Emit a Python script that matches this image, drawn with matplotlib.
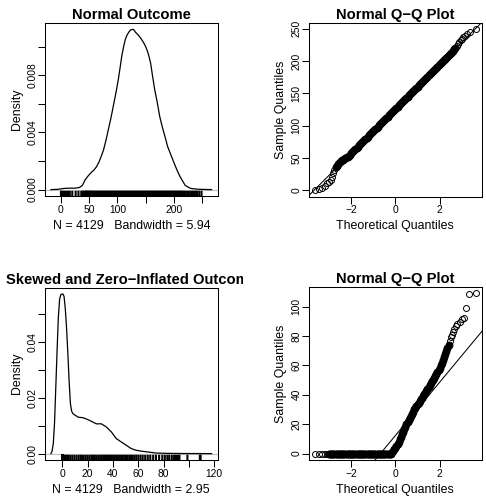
"""2x2 panel: density + normal Q-Q for a normal and a zero-inflated outcome (R base style)."""

import matplotlib

matplotlib.use("Agg")
import matplotlib.pyplot as plt  # noqa: E402
import numpy as np  # noqa: E402
from matplotlib.transforms import Bbox, TransformedBbox  # noqa: E402

plt.rcParams["font.family"] = ["Liberation Sans", "DejaVu Sans"]

# --- normal outcome: density curve ---
dens_norm_x = [-17.8, -5, 5, 15, 25, 33, 38, 43, 49, 55, 58, 63, 67, 72, 75.6,
               80, 84.5, 89, 93.5, 98, 102, 105, 108, 111, 114, 117, 120, 123, 126, 129,
               132, 136, 141, 146, 150, 153, 156, 159, 162, 166, 171, 175, 180, 185, 189,
               194, 198, 202, 206.5, 211, 215.5, 220, 224, 230, 236, 245, 255, 266.8]
dens_norm_y = [0.0, 0.00002, 0.00008, 0.0001, 0.0001, 0.00015, 0.0003, 0.0007, 0.001, 0.00125,
               0.00135, 0.0016, 0.0019, 0.0024, 0.0028, 0.0035, 0.0043, 0.0051, 0.006, 0.0069,
               0.0078, 0.0086, 0.0094, 0.0100, 0.0105, 0.0108, 0.0110, 0.01115, 0.0112, 0.01118,
               0.0110, 0.01085, 0.0106, 0.0103, 0.0100, 0.0097, 0.0093, 0.0088, 0.0080, 0.0070,
               0.0060, 0.0051, 0.0043, 0.0036, 0.0030, 0.0025, 0.0021, 0.0017, 0.00128, 0.0009,
               0.0006, 0.0003, 0.0002, 0.00008, 0.00005, 0.00002, 0.00001, 0.0]

# --- normal outcome: Q-Q points (theoretical, sample) ---
tq_norm = [-3.62, -3.45, -3.30, -3.18, -3.07, -2.98, -2.92, -2.86, -2.82, -2.76, -2.70,
           -2.65, -2.60, -2.55, -2.50, -2.45, -2.40, -2.35, -2.30, -2.25, -2.20, -2.15, -2.10,
           -2.05, -2.00, -1.95,
           -1.90, -1.85, -1.80, -1.75, -1.70, -1.65, -1.60, -1.55, -1.50, -1.45, -1.40, -1.35,
           -1.30, -1.25, -1.20, -1.15, -1.10, -1.05, -1.00,
           -0.95, -0.90, -0.85, -0.80, -0.75, -0.70, -0.65, -0.60, -0.55, -0.50, -0.45, -0.40,
           -0.35, -0.30, -0.25, -0.20, -0.15, -0.10, -0.05, 0.00,
           0.05, 0.10, 0.15, 0.20, 0.25, 0.30, 0.35, 0.40, 0.45, 0.50, 0.55, 0.60, 0.65, 0.70,
           0.75, 0.80, 0.85, 0.90, 0.95, 1.00,
           1.05, 1.10, 1.15, 1.20, 1.25, 1.30, 1.35, 1.40, 1.45, 1.50, 1.55, 1.60, 1.65, 1.70,
           1.75, 1.80, 1.85, 1.90, 1.95, 2.00,
           2.05, 2.10, 2.15, 2.20, 2.25, 2.30, 2.35, 2.40, 2.45, 2.50, 2.55, 2.60,
           2.65, 2.70, 2.76, 2.82, 2.88, 2.94, 3.00, 3.07, 3.14, 3.22, 3.37, 3.62]
sq_norm = [0.0, 2.0, 3.6, 7.0, 10.4, 13.0, 15.6, 20.0, 26.0, 31.0, 36.0,
           38.0, 40.0, 42.0, 43.5, 45.0, 46.0, 47.0, 48.5, 50.0, 51.0, 52.0, 53.5,
           55.0, 57.0, 59.0,
           60.6, 62.4, 64.1, 65.8, 67.5, 69.2, 71.0, 72.7, 74.4, 76.1, 77.8, 79.6,
           81.3, 83.0, 84.7, 86.4, 88.2, 89.9, 91.6,
           93.3, 95.0, 96.8, 98.5, 100.2, 101.9, 103.6, 105.4, 107.1, 108.8, 110.5, 112.2,
           114.0, 115.7, 117.4, 119.1, 120.8, 122.6, 124.3, 126.0,
           127.7, 129.4, 131.2, 132.9, 134.6, 136.3, 138.0, 139.8, 141.5, 143.2, 144.9, 146.6,
           148.4, 150.1, 151.8, 153.5, 155.2, 157.0, 158.7, 160.4,
           162.1, 163.8, 165.6, 167.3, 169.0, 170.7, 172.4, 174.2, 175.9, 177.6, 179.3, 181.0,
           182.8, 184.5, 186.2, 187.9, 189.6, 191.4, 193.1, 194.8,
           196.5, 198.2, 200.0, 201.7, 203.4, 205.1, 206.8, 208.6, 210.3, 212.0, 214.0, 216.0,
           218.0, 220.5, 223.5, 226.5, 229.5, 232.0, 234.5, 237.5, 239.5, 241.5, 245.0, 249.0]
q_norm = (102.6, 149.0)  # quartiles used by qqline

# --- skewed / zero-inflated outcome: density curve ---
dens_skew_x = [-8.85, -8, -7, -6, -5, -4, -3, -2, -1, 0.5, 1.5, 2.5, 3.5, 4.5, 5.5, 6.5,
               7.5, 8.6, 12.6, 16.5, 20.4, 24.4, 27, 30.9, 34.8, 38.8, 42.7, 46.6, 50.6,
               54.5, 58.4, 63.7, 68.9, 74, 82, 95, 117.85]
dens_skew_y = [0.0, 0.0008, 0.0035, 0.0110, 0.024, 0.037, 0.049, 0.0555, 0.0572, 0.0574,
               0.0565, 0.052, 0.045, 0.036, 0.026, 0.018, 0.0152, 0.0143, 0.0131, 0.0129,
               0.0122, 0.0113, 0.0107, 0.0107, 0.0096, 0.0078, 0.0054, 0.0042, 0.003,
               0.0018, 0.0012, 0.0008, 0.0005, 0.0002, 0.0001, 0.00003, 0.0]

# --- skewed / zero-inflated outcome: Q-Q points ---
tq_skew = [-3.62, -3.45, -3.30, -3.18, -3.07,
           -3.00, -2.95, -2.90, -2.85, -2.80, -2.75, -2.70, -2.65, -2.60, -2.55, -2.50, -2.45,
           -2.40, -2.35, -2.30, -2.25, -2.20, -2.15, -2.10, -2.05, -2.00, -1.95, -1.90, -1.85,
           -1.80, -1.75, -1.70, -1.65, -1.60, -1.55, -1.50, -1.45, -1.40, -1.35, -1.30, -1.25,
           -1.20, -1.15, -1.10, -1.05, -1.00, -0.95, -0.90, -0.85, -0.80, -0.75, -0.70, -0.65,
           -0.60, -0.55, -0.50, -0.45, -0.40, -0.35, -0.30, -0.25, -0.20,
           -0.15, -0.10, -0.05, 0.00,
           0.05, 0.10, 0.15, 0.20, 0.25, 0.30, 0.35, 0.40, 0.45, 0.50, 0.55, 0.60, 0.65, 0.70,
           0.75, 0.80, 0.85, 0.90, 0.95, 1.00,
           1.05, 1.10, 1.15, 1.20, 1.25, 1.30, 1.35, 1.40, 1.45, 1.50, 1.55, 1.60, 1.65, 1.70,
           1.75, 1.80, 1.85, 1.90, 1.95, 2.00,
           2.05, 2.10, 2.15, 2.20, 2.25, 2.30, 2.35, 2.40, 2.45, 2.50, 2.55, 2.60, 2.65,
           2.72, 2.80, 2.90, 3.00, 3.08, 3.19, 3.34, 3.62]
sq_skew = [0.0] * 62 + [
           0.8, 1.8, 2.8, 3.8,
           5.0, 6.4, 8.0, 9.7, 11.4, 13.1, 14.8, 16.5, 18.2, 19.8, 21.4, 23.0, 24.4, 25.8,
           27.2, 28.6, 30.0, 31.3, 32.5, 33.6,
           34.7, 35.8, 36.9, 38.0, 39.1, 40.3, 41.5, 42.7, 43.9, 45.2, 46.5, 47.8, 49.1, 50.4,
           51.7, 53.0, 54.3, 55.6, 57.0, 58.5,
           60.1, 61.8, 63.5, 65.5, 67.5, 69.5, 71.8, 74.0, 76.5, 79.0, 81.0, 83.0, 84.5,
           86.5, 88.3, 89.8, 91.3, 92.5, 98.8, 108.6, 109.2]
q_skew = (0.0, 24.5)

W, H = 486, 501
PT = 0.72  # points per pixel at dpi=100


def r_range(vals):
    lo, hi = min(vals), max(vals)
    pad = 0.04 * (hi - lo)
    return lo - pad, hi + pad


def r_axes(fig, x0, y0, x1, y1):
    ax = fig.add_axes([x0 / W, 1 - y1 / H, (x1 - x0) / W, (y1 - y0) / H])
    for sp in ax.spines.values():
        sp.set_linewidth(0.75)
    ax.tick_params(direction="out", length=4.7, width=0.75, labelsize=7.4, pad=1.5)
    ax.tick_params(axis="y", labelrotation=90, pad=0.3)
    return ax


def set_ticks(ax, xt, xl, yt, yl):
    ax.set_xticks(xt, xl)
    ax.set_yticks(yt, yl)
    for lab in ax.get_yticklabels():
        lab.set_va("center")


def r_labels(ax, title, xlabel, ylabel, clip=None):
    t = ax.annotate(title, (0.5, 1), xycoords="axes fraction", xytext=(0, 8 * PT),
                    textcoords="offset points", ha="center", va="center",
                    fontsize=10.6, fontweight="bold", annotation_clip=False)
    if clip is not None:
        t.set_clip_on(True)
        t.set_clip_box(clip)
    ax.annotate(xlabel, (0.5, 0), xycoords="axes fraction", xytext=(0, -29.7 * PT),
                textcoords="offset points", ha="center", va="center", fontsize=8.9)
    ax.annotate(ylabel, (0, 0.5), xycoords="axes fraction", xytext=(-28 * PT, 0),
                textcoords="offset points", ha="center", va="center", rotation=90,
                fontsize=8.9)


def density_panel(ax, x, y, rug):
    ax.axhline(0, color="#bebebe", lw=0.8, zorder=1)
    ax.plot(x, y, color="black", lw=0.9, zorder=3)
    ax.vlines(rug, 0, 0.03, transform=ax.get_xaxis_transform(), color="black", lw=1.5,
              snap=False)
    ax.set_xlim(*r_range(x))
    ax.set_ylim(*r_range([0.0, max(y)]))


def qq_panel(ax, tq, sq, quart, solid):
    # overlapping circles in the crowded middle render as a solid band
    tq, sq = np.asarray(tq), np.asarray(sq)
    crowded = (tq >= solid[0]) & (tq <= solid[1])
    ax.plot(tq[~crowded], sq[~crowded], "o", mfc="none", mec="black", ms=4.3, mew=0.7,
            zorder=3)
    ax.plot(tq[crowded], sq[crowded], "o", mfc="black", mec="black", ms=5.0, mew=0.7,
            zorder=3)
    ax.axline((-0.6745, quart[0]), (0.6745, quart[1]), color="black", lw=0.75, zorder=2)
    ax.set_xlim(*r_range(tq))
    ax.set_ylim(*r_range(sq))


fig = plt.figure(figsize=(W / 100, H / 100), dpi=100)

ax = r_axes(fig, 44.5, 23, 218, 196)
density_panel(ax, dens_norm_x, dens_norm_y, sq_norm)
set_ticks(ax, [0, 50, 100, 150, 200, 250], ["0", "50", "100", "", "200", ""],
          [0, 0.002, 0.004, 0.006, 0.008, 0.010], ["0.000", "", "0.004", "", "0.008", ""])
r_labels(ax, "Normal Outcome", "N = 4129   Bandwidth = 5.94", "Density")

ax = r_axes(fig, 308.7, 23, 482, 196.5)
qq_panel(ax, tq_norm, sq_norm, q_norm, (-2.72, 2.74))
set_ticks(ax, [-2, 0, 2], ["\u22122", "0", "2"],
          [0, 50, 100, 150, 200, 250], ["0", "50", "100", "150", "200", "250"])
r_labels(ax, "Normal Q\u2212Q Plot", "Theoretical Quantiles", "Sample Quantiles")

ax = r_axes(fig, 44.5, 287.5, 218, 460)
density_panel(ax, dens_skew_x, dens_skew_y, sq_skew)
set_ticks(ax, [0, 20, 40, 60, 80, 100, 120], ["0", "20", "40", "60", "80", "", "120"],
          [0, 0.01, 0.02, 0.03, 0.04, 0.05], ["0.00", "", "0.02", "", "0.04", ""])
left_half = TransformedBbox(Bbox([[0, 0], [0.5, 1]]), fig.transFigure)
r_labels(ax, "Skewed and Zero\u2212Inflated Outcome", "N = 4129   Bandwidth = 2.95", "Density",
         clip=left_half)

ax = r_axes(fig, 308.7, 286.7, 482, 460)
qq_panel(ax, tq_skew, sq_skew, q_skew, (-3.02, 2.42))
set_ticks(ax, [-2, 0, 2], ["\u22122", "0", "2"],
          [0, 20, 40, 60, 80, 100], ["0", "20", "40", "60", "80", "100"])
r_labels(ax, "Normal Q\u2212Q Plot", "Theoretical Quantiles", "Sample Quantiles")

fig.savefig("out.png", dpi=100)
